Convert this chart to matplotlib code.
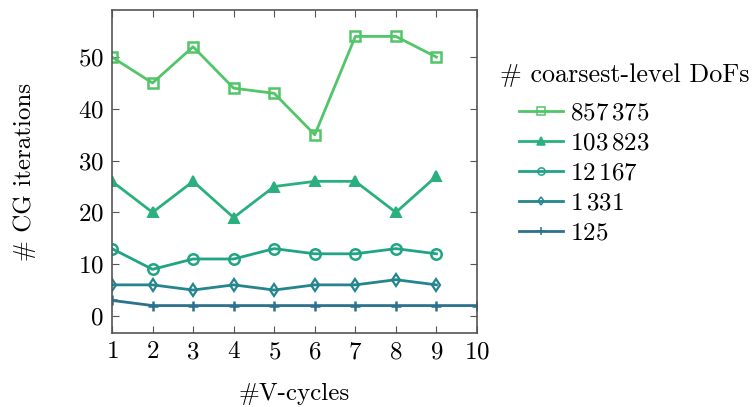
import matplotlib
matplotlib.use("Agg")
import matplotlib.pyplot as plt

plt.rcParams['font.family'] = ['cmr10', 'DejaVu Serif']
plt.rcParams['mathtext.fontset'] = 'cm'
plt.rcParams['axes.formatter.use_mathtext'] = True

x9 = [1, 2, 3, 4, 5, 6, 7, 8, 9]
x10 = [1, 2, 3, 4, 5, 6, 7, 8, 9, 10]
s857375 = [50, 45, 52, 44, 43, 35, 54, 54, 50]
s103823 = [26, 20, 26, 19, 25, 26, 26, 20, 27]
s12167 = [13, 9, 11, 11, 13, 12, 12, 13, 12]
s1331 = [6, 6, 5, 6, 5, 6, 6, 7, 6]
s125 = [3, 2, 2, 2, 2, 2, 2, 2, 2, 2]
labels = [r'$857\,375$', r'$103\,823$', r'$12\,167$', r'$1\,331$', r'$125$']
xticks = [1, 2, 3, 4, 5, 6, 7, 8, 9, 10]
yticks = [0, 10, 20, 30, 40, 50]

colors = ['#52c569', '#2ab07f', '#21a386', '#25858e', '#2c718e']
FS = 18

fig = plt.figure(figsize=(7.53, 4.07), dpi=100)
ax = fig.add_axes([0.1487, 0.1818, 0.4848, 0.7936])

lw = 2.0
ax.plot(x9, s857375, color=colors[0], lw=lw, marker='s', ms=7.5, mfc='none', mew=1.8, label=labels[0])
ax.plot(x9, s103823, color=colors[1], lw=lw, marker='^', ms=7.5, mfc=colors[1], mew=1.4, label=labels[1])
ax.plot(x9, s12167, color=colors[2], lw=lw, marker='o', ms=7.5, mfc='none', mew=1.8, label=labels[2])
ax.plot(x9, s1331, color=colors[3], lw=lw, marker='d', ms=6.5, mfc='none', mew=1.6, label=labels[3])
ax.plot(x10, s125, color=colors[4], lw=lw, marker='+', ms=7.5, mew=1.8, label=labels[4])

ax.set_xlim(1, 10)
ax.set_ylim(-3.3, 59.1)
ax.set_xticks(xticks)
ax.set_yticks(yticks)
ax.tick_params(direction='in', top=True, right=True, labelsize=FS, length=5,
               color='#555555', pad=6)
for sp in ax.spines.values():
    sp.set_color('#555555')
    sp.set_linewidth(1.2)

ax.set_xlabel('#V-cycles', fontsize=FS, labelpad=14)
ax.set_ylabel('# CG iterations', fontsize=FS, labelpad=30)

fig.text(500 / 753, 1 - 75 / 407, '# coarsest-level DoFs', fontsize=18.8, ha='left', va='center')
leg = ax.legend(loc='upper left', bbox_to_anchor=(519 / 753, 1 - 102 / 407),
                bbox_transform=fig.transFigure, borderaxespad=0, borderpad=0,
                frameon=False, fontsize=FS, markerscale=0.7,
                handlelength=1.75, handletextpad=0.3, labelspacing=0.3)
for h in leg.get_lines():
    h.set_markeredgewidth(1.1)

fig.savefig('out.png', dpi=100)
